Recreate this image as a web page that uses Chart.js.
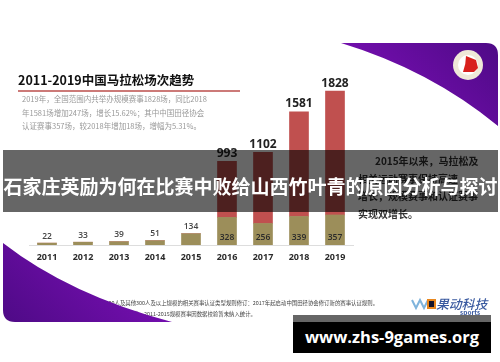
<!DOCTYPE html>
<html>
<head>
<meta charset="utf-8">
<script src="https://cdn.jsdelivr.net/npm/chart.js@4"></script>
<style>
  html, body { margin: 0; padding: 0; background: #fff; }
  #wrap { position: relative; width: 500px; height: 362px; overflow: hidden; font-family: "Noto Sans CJK SC", sans-serif; }
  #wrap div { position: absolute; white-space: nowrap; }
  svg, canvas { position: absolute; left: 0; top: 0; }
  .soft { filter: blur(0.4px); }
  .wedge-tr { left: 341px; top: 43px; width: 157px; height: 83px; background: linear-gradient(45deg, #8410c0, #4e0a86); clip-path: path("M0 0 L145 0 Q157 0 157 12 L157 83 Q89 27 0 0 Z"); }
  .wedge-bl { left: 3px; top: 243px; width: 169px; height: 79px; background: linear-gradient(45deg, #4e0a86, #8410c0); clip-path: path("M0 0 Q67 52 169 79 L12 79 Q0 79 0 67 Z"); }
</style>
</head>
<body>
<div id="wrap">
  <canvas id="myChart" width="500" height="362"></canvas>

  <div class="soft" style="left:18px;top:70px;font-size:12.5px;font-weight:700;color:#111;line-height:20px">2011-2019中国马拉松场次趋势</div>
  <div class="soft" style="left:22px;top:92px;font-size:7.5px;color:#999;line-height:13.6px">
    2019年，全国范围内共举办规模赛事1828场，同比2018<br>
    年1581场增加247场，增长15.62%；其中中国田径协会<br>
    认证赛事357场，较2018年增加18场，增幅为5.31%。
  </div>

  <div class="soft" style="left:358px;top:152px;font-size:10px;font-weight:700;color:#333;line-height:17.5px">
    <span style="padding-left:17px">2015年以来，马拉松及</span><br>
    相关运动赛事保持高速<br>
    增长，规模赛事和认证赛事<br>
    实现双增长。
  </div>

  <div class="soft" style="left:10px;top:298px;font-size:5.4px;color:#444;line-height:11px">
    注：1. 规模赛事：指规模800人以上、含800人及其他300人及以上规模的相关赛事认证类型规则修订：2017年起启动中国田径协会修订新的赛事认证规则。<br>
    2. 认证赛事：经2017-2019年中国田径协会认证的赛事。2011-2015规模赛事因数据校验暂未纳入统计。
  </div>

  <div class="wedge-tr"></div>
  <div class="wedge-bl"></div>

  <svg width="500" height="362">
    <circle cx="468" cy="65" r="15" fill="#efe8d8"/>
    <circle cx="468" cy="65" r="10" fill="#fff"/>
    <path d="M466 56 L476 60 L478 68 L474 72 L463 72 Q466 64 466 56 Z" fill="#d8201c"/>
    <rect x="18" y="90" width="222" height="2" fill="#cc7a78"/>
    <path d="M412 300 L416 308 L420 300 L424 308 L428 300" fill="none" stroke="#7fb4dc" stroke-width="2"/>
    <rect x="427" y="299" width="9" height="10" fill="#e8871e"/>
    <rect x="429" y="301" width="5" height="6" fill="#14142a"/>
  </svg>

  <div class="soft" style="left:436px;top:295px;font-size:12.8px;font-weight:500;font-style:italic;color:#3a5aa0;line-height:18px">果动科技</div>
  <div class="soft" style="left:460px;top:308px;font-size:6.5px;font-weight:700;color:#3a5aa0;line-height:9px">sports</div>

  <!-- grey caption band over the slide -->
  <div style="left:3px;top:150px;width:495px;height:62px;background:rgba(0,0,0,0.6)"></div>
  <div style="left:3px;top:150px;width:495px;height:62px;line-height:71px;font-size:19px;font-weight:700;color:#fff;text-align:center">石家庄英励为何在比赛中败给山西竹叶青的原因分析与探讨</div>

  <div style="left:293px;top:315px;width:198px;height:7px;background:#666"></div>
  <div style="left:293px;top:322px;width:198px;height:31px;line-height:30px;background:#000;color:#fff;font-family:'Open Sans',sans-serif;font-size:16.5px;font-weight:700;text-align:center">www.zhs-9games.org</div>
</div>

<script>
const years = ["2011", "2012", "2013", "2014", "2015", "2016", "2017", "2018", "2019"];
const certified = [22, 33, 39, 51, 134, 328, 256, 339, 357];
const totals = [22, 33, 39, 51, 134, 993, 1102, 1581, 1828];
const others = [0, 0, 0, 0, 0, 665, 846, 1242, 1471];

const barLabels = {
  id: "barLabels",
  afterDatasetsDraw(chart) {
    const g = chart.ctx;
    const low = chart.getDatasetMeta(0).data;
    const high = chart.getDatasetMeta(1).data;
    g.save();
    g.textAlign = "center";
    g.textBaseline = "middle";
    years.forEach((y, i) => {
      const big = totals[i] >= 900;
      g.fillStyle = big ? "#222222" : "#444444";
      g.font = (big ? "700 12px" : "600 8.5px") + " 'Open Sans', sans-serif";
      const top = big ? high[i] : low[i];
      g.fillText(totals[i], top.x, top.y - (big ? 8 : 7));
      if (big) {
        g.fillStyle = "#2b2b2b";
        g.font = "600 8.5px 'Open Sans', sans-serif";
        g.fillText(certified[i], low[i].x, 238);
      }
    });
    g.restore();
  },
};

new Chart(document.getElementById("myChart"), {
  type: "bar",
  data: {
    labels: years,
    datasets: [
      { label: "认证赛事", data: certified, backgroundColor: "#9c8e5a", barThickness: 19 },
      { label: "规模赛事", data: others, backgroundColor: "#c0504f", barThickness: 19 },
    ],
  },
  options: {
    responsive: false,
    animation: false,
    layout: { padding: { left: 29, right: 147, top: 43, bottom: 0 } },
    plugins: { legend: { display: false }, tooltip: { enabled: false } },
    scales: {
      x: {
        stacked: true,
        grid: { display: false, drawTicks: false },
        border: { color: "#dddddd" },
        ticks: {
          color: "#2b2b2b",
          padding: 7,
          maxRotation: 0,
          font: { family: "'Open Sans', sans-serif", size: 9, weight: "700" },
        },
        afterFit(axis) { axis.height = 117; },
      },
      y: { stacked: true, display: false, min: 0, max: 2400 },
    },
  },
  plugins: [barLabels],
});
</script>
</body>
</html>
